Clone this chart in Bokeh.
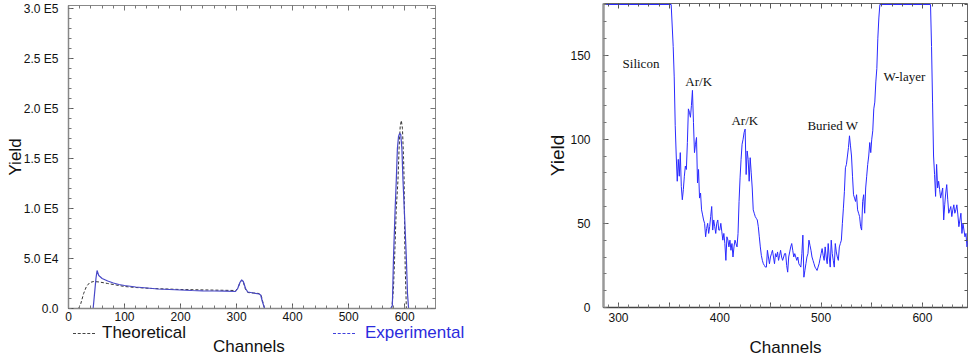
from bokeh.plotting import figure
from bokeh.layouts import row, column
from bokeh.models import Range1d, LinearAxis, FixedTicker, Label, Div
from bokeh.embed import file_html
from bokeh.resources import INLINE

# ---------------- Left panel data ----------------
theo_ch = [0, 18, 22, 27, 32, 38, 45, 55, 70, 85, 100, 120, 150, 200, 250, 298, 302, 306, 309,
           312, 316, 320, 330, 340, 344, 347, 350, 577, 580, 582, 585, 588, 590, 592, 594, 596,
           598, 599, 600, 601, 603, 655]
theo_yield = [0, 0, 5000, 15000, 22000, 26000, 27000, 26500, 25000, 23500, 22000, 21000, 20000,
              19000, 18500, 18000, 20000, 26000, 28000, 26500, 19000, 16000, 15500, 15000, 13000,
              6000, 0, 0, 20000, 50000, 100000, 128000, 160000, 182000, 188000, 180000, 150000,
              128000, 70000, 40000, 0, 0]

exp_ch = [0, 44, 46, 49, 51, 54, 60, 70, 80, 90, 100, 120, 140, 160, 180, 200, 220, 240, 260,
          280, 298, 302, 306, 309, 312, 316, 320, 330, 340, 343, 346, 350, 575, 578, 580, 583,
          585, 587, 589, 591, 593, 595, 597, 600, 603, 605, 607, 655]
exp_yield = [0, 0, 12000, 30000, 38000, 33000, 30000, 27500, 25500, 24000, 23000, 21500, 20500,
             19500, 19000, 18500, 18000, 17700, 17500, 17300, 17000, 20000, 26000, 28700, 27000,
             20000, 16500, 15500, 14500, 13500, 7000, 0, 0, 3000, 50000, 100000, 128000, 160000,
             172000, 175000, 174000, 160000, 128000, 90000, 50000, 15000, 0, 0]

left_xticks = [0, 100, 200, 300, 400, 500, 600]
left_yticks = [0, 50000, 100000, 150000, 200000, 250000, 300000]
left_ytick_labels = ["0.0", "5.0 E4", "1.0 E5", "1.5 E5", "2.0 E5", "2.5 E5", "3.0 E5"]
legend_names = ["Theoretical", "Experimental"]

# ---------------- Right panel data ----------------
zoom_ch = [285, 352, 354, 355, 356, 357, 358, 359, 360, 361, 362, 363, 364, 365, 366, 367, 368,
           369, 370, 371, 372, 373, 374, 375, 376, 377, 378, 379, 380, 381, 382, 383, 384, 385,
           386, 387, 388, 389, 390, 391, 392, 393, 394, 395, 396, 397, 398, 399, 400, 401, 402,
           403, 404, 405, 406, 407, 408, 409, 410, 411, 412, 413, 414, 415, 416, 417, 418, 419,
           420, 421, 422, 423, 424, 425, 426, 427, 428, 429, 430, 431, 432, 433, 434, 435, 436,
           437, 438, 439, 440, 441, 442, 443, 444, 445, 446, 447, 448, 449, 450, 451, 452, 453,
           454, 455, 456, 457, 458, 459, 460, 461, 462, 463, 464, 465, 466, 467, 468, 469, 470,
           471, 472, 473, 474, 475, 476, 477, 478, 479, 480, 481, 482, 483, 484, 485, 486, 487,
           488, 489, 490, 491, 492, 493, 494, 495, 496, 497, 498, 499, 500, 501, 502, 503, 504,
           505, 506, 507, 508, 509, 510, 511, 512, 513, 514, 515, 516, 517, 518, 519, 520, 521,
           522, 523, 524, 525, 526, 527, 528, 529, 530, 531, 532, 533, 534, 535, 536, 537, 538,
           539, 540, 541, 542, 543, 544, 545, 546, 547, 548, 549, 550, 551, 552, 553, 554, 555,
           556, 557, 558, 608, 609, 610, 611, 612, 613, 614, 615, 616, 617, 618, 619, 620, 621,
           622, 623, 624, 625, 626, 627, 628, 629, 630, 631, 632, 633, 634, 635, 636, 637, 638,
           639, 640, 641, 642, 643, 644, 645, 646, 647]
zoom_yield = [180, 180, 155, 137, 108, 90, 75, 88, 78, 92, 72, 64, 70, 78, 84, 82, 98,
              118, 116, 113, 120, 129, 110, 92, 97, 101, 74, 82, 65, 68, 58, 55, 52, 50,
              42, 47, 50, 44, 48, 54, 60, 46, 52, 48, 44, 50, 52, 46, 46, 50, 45,
              40, 44, 38, 28, 42, 40, 36, 40, 34, 38, 30, 36, 40, 38, 36, 44, 63,
              77, 88, 97, 100, 104, 106, 79, 93, 88, 75, 89, 80, 71, 58, 56, 54, 53,
              52, 48, 42, 36, 31, 28, 26, 25, 24, 24, 34, 30, 26, 30, 32, 34, 30,
              26, 32, 30, 33, 28, 31, 34, 30, 28, 30, 32, 32, 25, 21, 30, 33, 36,
              38, 34, 30, 32, 30, 28, 30, 26, 25, 24, 32, 43, 18, 22, 26, 30, 32,
              40, 37, 34, 30, 28, 26, 24, 23, 22, 24, 26, 29, 32, 35, 31, 28, 36,
              30, 26, 38, 30, 24, 40, 32, 28, 24, 38, 33, 30, 28, 36, 38, 40, 50,
              59, 69, 83, 85, 90, 95, 102, 96, 90, 78, 67, 65, 63, 67, 58, 56, 54,
              48, 46, 63, 67, 56, 71, 78, 85, 90, 98, 92, 100, 105, 118, 122, 134, 142,
              160, 172, 180, 180, 155, 122, 90, 79, 66, 85, 71, 75, 70, 65, 68, 71, 52,
              61, 68, 73, 64, 56, 58, 60, 54, 58, 61, 56, 58, 61, 55, 48, 52, 56,
              44, 50, 46, 42, 44, 36, 40, 33, 38]

right_xticks = [300, 350, 400, 450, 500, 550, 600, 650]
right_xtick_labels = ["300", "", "400", "", "500", "", "600", ""]
right_yticks = [0, 50, 100, 150]
note_texts = ["Silicon", "Ar/K", "Ar/K", "Buried W", "W-layer"]
note_ch = [304, 366, 411.5, 486.5, 561.5]
note_yield = [145, 134, 111, 108, 137]

FONT = "Liberation Sans"


def style_axis(ax, line_color, line_width):
    ax.axis_line_color = line_color
    ax.axis_line_width = line_width
    ax.major_tick_in = 5
    ax.major_tick_out = 0
    ax.minor_tick_in = 3
    ax.minor_tick_out = 0
    ax.major_tick_line_color = "#555555"
    ax.minor_tick_line_color = "#777777"
    ax.major_label_text_font = FONT
    ax.major_label_text_color = "#111111"
    ax.major_label_text_font_size = "12px"
    ax.axis_label_text_font = FONT
    ax.axis_label_text_font_style = "normal"
    ax.axis_label_text_color = "#111111"


def add_mirror(p, place, major, minor, color):
    # tick marks only (no labels) on the opposite sides of the frame
    for ticks, length in ((minor, 3), (major, 5)):
        ax = LinearAxis(ticker=FixedTicker(ticks=[], minor_ticks=ticks))
        ax.axis_line_color = None
        ax.minor_tick_in = length
        ax.minor_tick_out = 0
        ax.minor_tick_line_color = color
        ax.major_tick_line_color = None
        p.add_layout(ax, place)


# ---------------- Left figure ----------------
p1 = figure(width=540, height=326, output_backend="svg", toolbar_location=None,
            x_range=Range1d(0, 655), y_range=Range1d(0, 303000),
            min_border_left=68, min_border_right=105, min_border_top=5, min_border_bottom=18)
p1.grid.visible = False
p1.outline_line_color = "#888888"

p1.line(theo_ch, theo_yield, line_color="#333333", line_dash="3 2", line_width=1)
p1.line(exp_ch, exp_yield, line_color="#4848c8", line_width=1.2)

lx_minor = list(range(0, 660, 20))
ly_minor = list(range(0, 310000, 10000))

xa = p1.xaxis[0]
xa.ticker = FixedTicker(ticks=left_xticks, minor_ticks=lx_minor)
style_axis(xa, "#888888", 1.5)
xa.major_label_standoff = 3

ya = p1.yaxis[0]
ya.ticker = FixedTicker(ticks=left_yticks, minor_ticks=ly_minor)
ya.major_label_overrides = {int(k): v for k, v in zip(left_yticks, left_ytick_labels)}
style_axis(ya, "#888888", 1.5)
ya.major_label_standoff = 10
ya.axis_label = "Yield"
ya.axis_label_text_font_size = "17px"
ya.axis_label_standoff = -4

add_mirror(p1, "above", left_xticks, lx_minor, "#777777")
add_mirror(p1, "right", left_yticks, ly_minor, "#777777")

# strip below the left chart: legend and x-axis title
span = "position:absolute;white-space:nowrap;"
strip_html = (
    '<div style="position:relative;width:540px;height:34px;margin:0;padding:0;'
    f'font-family:{FONT};font-size:17px;">'
    f'<div style="{span}left:73px;top:7px;width:22px;height:0;border-top:1px dashed #444444;"></div>'
    f'<div style="{span}left:102px;top:-3px;line-height:20px;color:#111111;">{legend_names[0]}</div>'
    f'<div style="{span}left:333px;top:7px;width:22px;height:0;border-top:1px dashed #4040dd;"></div>'
    f'<div style="{span}left:365px;top:-3px;line-height:20px;color:#2b2bdd;">{legend_names[1]}</div>'
    f'<div style="{span}left:213px;top:11px;line-height:20px;color:#111111;">Channels</div>'
    '</div>'
)
s1 = Div(text=strip_html, width=540, height=34, margin=(0, 0, 0, 0),
         styles={"overflow": "visible", "padding": "0"})

# ---------------- Right figure ----------------
p2 = figure(width=428, height=360, output_backend="svg", toolbar_location=None,
            x_range=Range1d(285.2, 644.5), y_range=Range1d(0, 180.6),
            min_border_left=63, min_border_right=1, min_border_top=3, min_border_bottom=53)
p2.grid.visible = False
p2.outline_line_color = "#666666"

p2.line(zoom_ch, zoom_yield, line_color="#2a2aff", line_width=1)

rx_minor = list(range(290, 650, 10))
ry_minor = list(range(0, 181, 10))

xb = p2.xaxis[0]
xb.ticker = FixedTicker(ticks=right_xticks, minor_ticks=rx_minor)
xb.major_label_overrides = {int(k): v for k, v in zip(right_xticks, right_xtick_labels)}
style_axis(xb, "#444444", 1.5)
xb.major_label_standoff = 5
xb.axis_label = "Channels"
xb.axis_label_text_font_size = "17px"
xb.axis_label_standoff = 13

yb = p2.yaxis[0]
yb.ticker = FixedTicker(ticks=right_yticks, minor_ticks=ry_minor)
style_axis(yb, "#999999", 2.5)
yb.major_label_standoff = 13
yb.axis_label = "Yield"
yb.axis_label_text_font_size = "19px"
yb.axis_label_standoff = -1

add_mirror(p2, "above", right_xticks, rx_minor, "#555555")
add_mirror(p2, "right", right_yticks, ry_minor, "#555555")

for t, cx, cy in zip(note_texts, note_ch, note_yield):
    p2.add_layout(Label(x=cx, y=cy, text=t, text_font="Liberation Serif",
                        text_font_size="13px", text_color="#111111", text_baseline="middle"))

layout = row(column(p1, s1), p2)
open("out.html", "w").write(file_html(layout, INLINE))
